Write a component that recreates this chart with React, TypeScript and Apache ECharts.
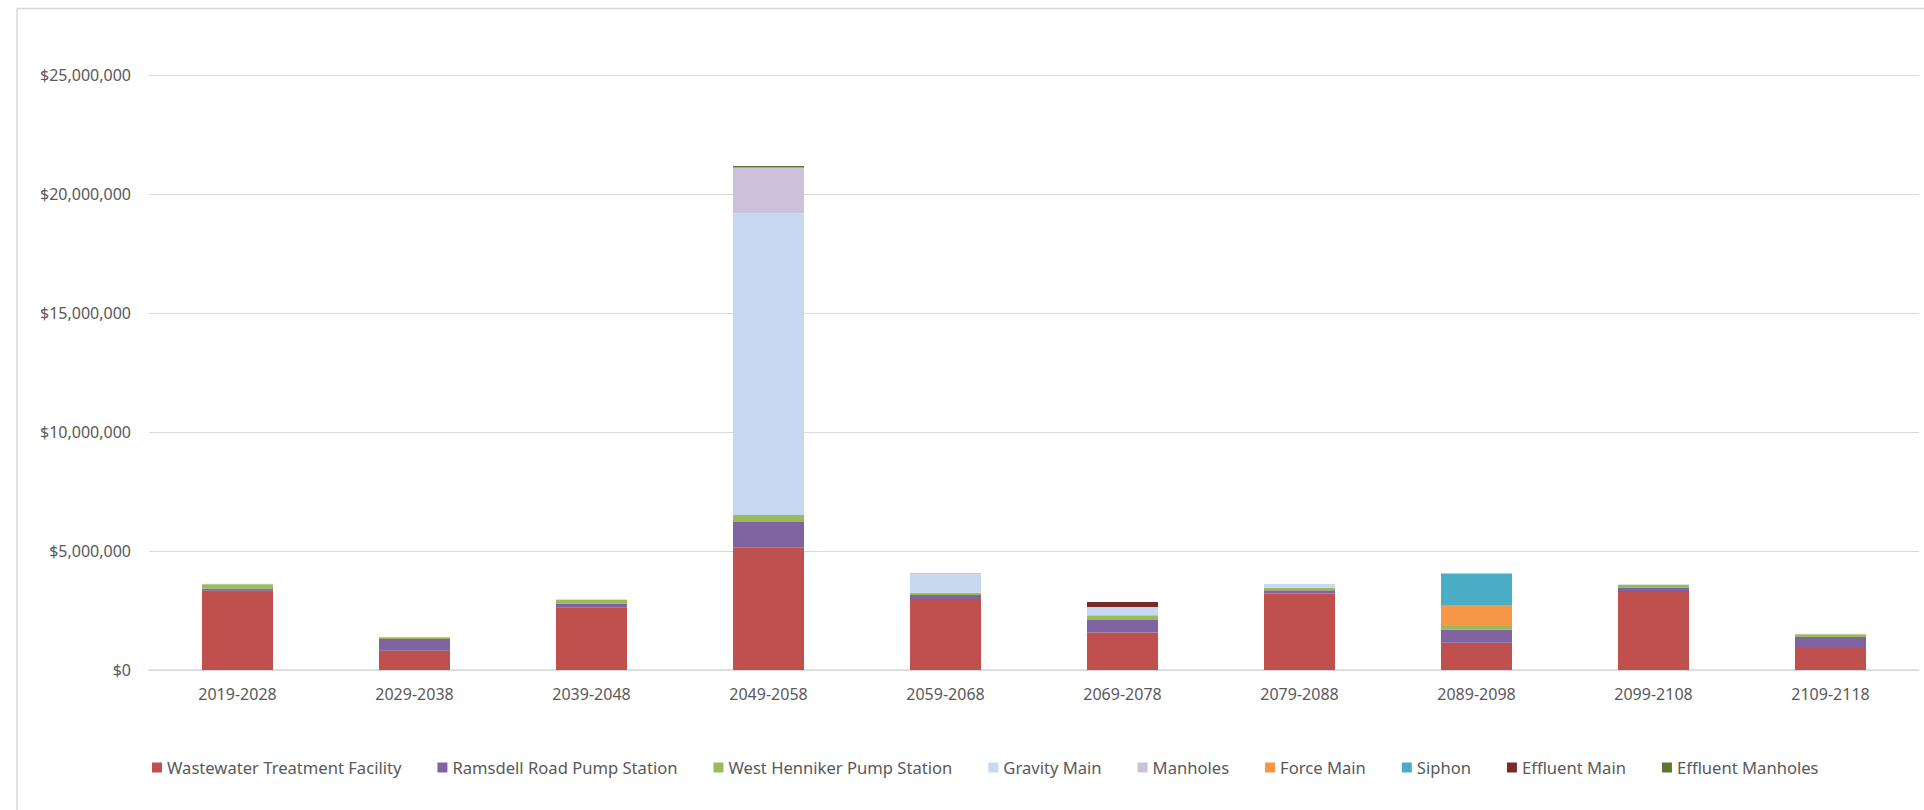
import React, { useEffect, useRef } from "react";
import * as echarts from "echarts";

const categories = [
  "2019-2028", "2029-2038", "2039-2048", "2049-2058", "2059-2068",
  "2069-2078", "2079-2088", "2089-2098", "2099-2108", "2109-2118",
];

const seriesNames = [
  "Wastewater Treatment Facility",
  "Ramsdell Road Pump Station",
  "West Henniker Pump Station",
  "Gravity Main",
  "Manholes",
  "Force Main",
  "Siphon",
  "Effluent Main",
  "Effluent Manholes",
];

const wastewaterTreatment = [3330000, 810000, 2620000, 5160000, 2980000, 1580000, 3210000, 1150000, 3320000, 970000];
const ramsdellRoad = [80000, 490000, 170000, 1060000, 170000, 520000, 140000, 550000, 130000, 420000];
const westHenniker = [190000, 80000, 150000, 290000, 100000, 200000, 110000, 150000, 130000, 110000];
const gravityMain = [20000, 0, 30000, 12680000, 760000, 320000, 150000, 0, 20000, 20000];
const manholes = [0, 0, 0, 1920000, 70000, 30000, 0, 0, 0, 0];
const forceMain = [0, 0, 0, 0, 0, 0, 0, 880000, 0, 0];
const siphon = [0, 0, 0, 0, 0, 0, 0, 1320000, 0, 0];
const effluentMain = [0, 0, 0, 0, 0, 210000, 0, 0, 0, 0];
const effluentManholes = [0, 0, 0, 70000, 0, 0, 0, 0, 0, 0];

const allValues = [
  wastewaterTreatment, ramsdellRoad, westHenniker, gravityMain, manholes,
  forceMain, siphon, effluentMain, effluentManholes,
];

const colors = [
  "#C0504D", "#8064A2", "#9BBB59", "#C6D9F1", "#CCC1DA",
  "#F79646", "#4BACC6", "#772C2A", "#5F7530",
];

const yTicks = { min: 0, max: 25000000, interval: 5000000 };

export default function App() {
  const ref = useRef<HTMLDivElement>(null);

  useEffect(() => {
    if (!ref.current) return;
    const chart = echarts.init(ref.current, null, { renderer: "svg" });
    const font = "'Noto Sans', sans-serif";
    chart.setOption({
      animation: false,
      backgroundColor: "#ffffff",
      color: colors,
      grid: { left: 149, right: 5, top: 75, bottom: 140 },
      graphic: [
        { type: "line", shape: { x1: 17, y1: 8.5, x2: 1924, y2: 8.5 }, style: { stroke: "#d9d9d9", lineWidth: 1.5 } },
        { type: "line", shape: { x1: 17, y1: 8.5, x2: 17, y2: 810 }, style: { stroke: "#d9d9d9", lineWidth: 1.5 } },
      ],
      legend: {
        left: 147,
        top: 754,
        itemWidth: 10,
        itemHeight: 10,
        itemGap: 36,
        icon: "rect",
        textStyle: { fontFamily: font, fontSize: 16.6, color: "#595959" },
        data: seriesNames,
      },
      xAxis: {
        type: "category",
        data: categories,
        axisLine: { lineStyle: { color: "#d9d9d9", width: 1.5 } },
        axisTick: { show: false },
        axisLabel: { fontFamily: font, fontSize: 16, color: "#595959", margin: 16 },
      },
      yAxis: {
        type: "value",
        min: yTicks.min,
        max: yTicks.max,
        interval: yTicks.interval,
        axisLine: { show: false },
        axisTick: { show: false },
        splitLine: { lineStyle: { color: "#d9d9d9", width: 1 } },
        axisLabel: {
          fontFamily: font,
          fontSize: 16,
          color: "#595959",
          margin: 18,
          formatter: (v: number) => "$" + v.toLocaleString("en-US"),
        },
      },
      series: seriesNames.map((name, i) => ({
        name,
        type: "bar",
        stack: "total",
        barWidth: 71,
        data: allValues[i],
        itemStyle: { color: colors[i] },
      })),
    });
    return () => chart.dispose();
  }, []);

  return (
    <div
      ref={ref}
      style={{ position: "absolute", left: 0, top: 0, width: 1924, height: 810 }}
    />
  );
}
